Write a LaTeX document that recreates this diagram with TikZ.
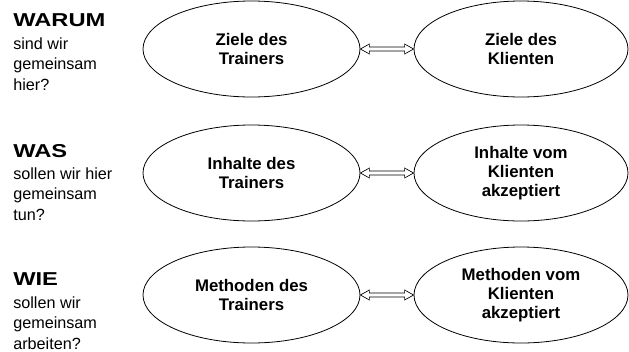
\documentclass[tikz,border=0pt]{standalone}
\usepackage{fontspec}
\setmainfont{Liberation Sans}
\newfontfamily\headfont[FakeStretch=1.27]{Liberation Sans}
\usepackage{tikz}
\usetikzlibrary{positioning, shapes.geometric, calc}

\begin{document}
\begin{tikzpicture}
    [x=0.75pt, y=-0.75pt,
      goal/.style={draw, ellipse, line width=0.6pt, inner sep=0pt,
        minimum height=72pt, align=center,
        font=\bfseries\fontsize{12.6pt}{14.25pt}\selectfont},
      head/.style={anchor=base west, inner sep=0pt,
        font=\headfont\bfseries\fontsize{14pt}{16pt}\selectfont},
      sub/.style={anchor=north west, inner sep=0pt, align=left,
        font=\fontsize{12.15pt}{15.4pt}\selectfont},
      link/.style={draw, line width=0.5pt, fill=white, line join=miter}]

    \useasboundingbox (0,0) rectangle (629,351);

    % WARUM
    \node[head] (warum) at (13,26) {WARUM};
    \node[sub] (warum-sub) at (13,37.2) {sind wir\\gemeinsam\\hier?};
    \node[goal, minimum width=162.75pt] (ziele-t) at (251.5,49) {Ziele des\\Trainers};
    \node[goal, minimum width=160.5pt] (ziele-k) at (521,49) {Ziele des\\Klienten};

    % WAS
    \node[head] (was) at (13,157) {WAS};
    \node[sub] (was-sub) at (13,167.2) {sollen wir hier\\gemeinsam\\tun?};
    \node[goal, minimum width=162.75pt] (inhalte-t) at (251.5,173) {Inhalte des\\Trainers};
    \node[goal, minimum width=160.5pt] (inhalte-k) at (521,173) {Inhalte vom\\Klienten\\akzeptiert};

    % WIE
    \node[head] (wie) at (13,285) {WIE};
    \node[sub] (wie-sub) at (13,296.2) {sollen wir\\gemeinsam\\arbeiten?};
    \node[goal, minimum width=162.75pt] (methoden-t) at (251.5,295) {Methoden des\\Trainers};
    \node[goal, minimum width=160.5pt] (methoden-k) at (521,295) {Methoden vom\\Klienten\\akzeptiert};

    % hollow double arrows
    \foreach \a/\b in {ziele-t/ziele-k, inhalte-t/inhalte-k, methoden-t/methoden-k}
      \draw[link] (\a.east) -- ++(9,-5) -- ++(0,3) -- ($(\b.west)+(-9,-2)$)
        -- ++(0,-3) -- (\b.west) -- ++(-9,5) -- ++(0,-3)
        -- ($(\a.east)+(9,2)$) -- ++(0,3) -- cycle;
\end{tikzpicture}
\end{document}
